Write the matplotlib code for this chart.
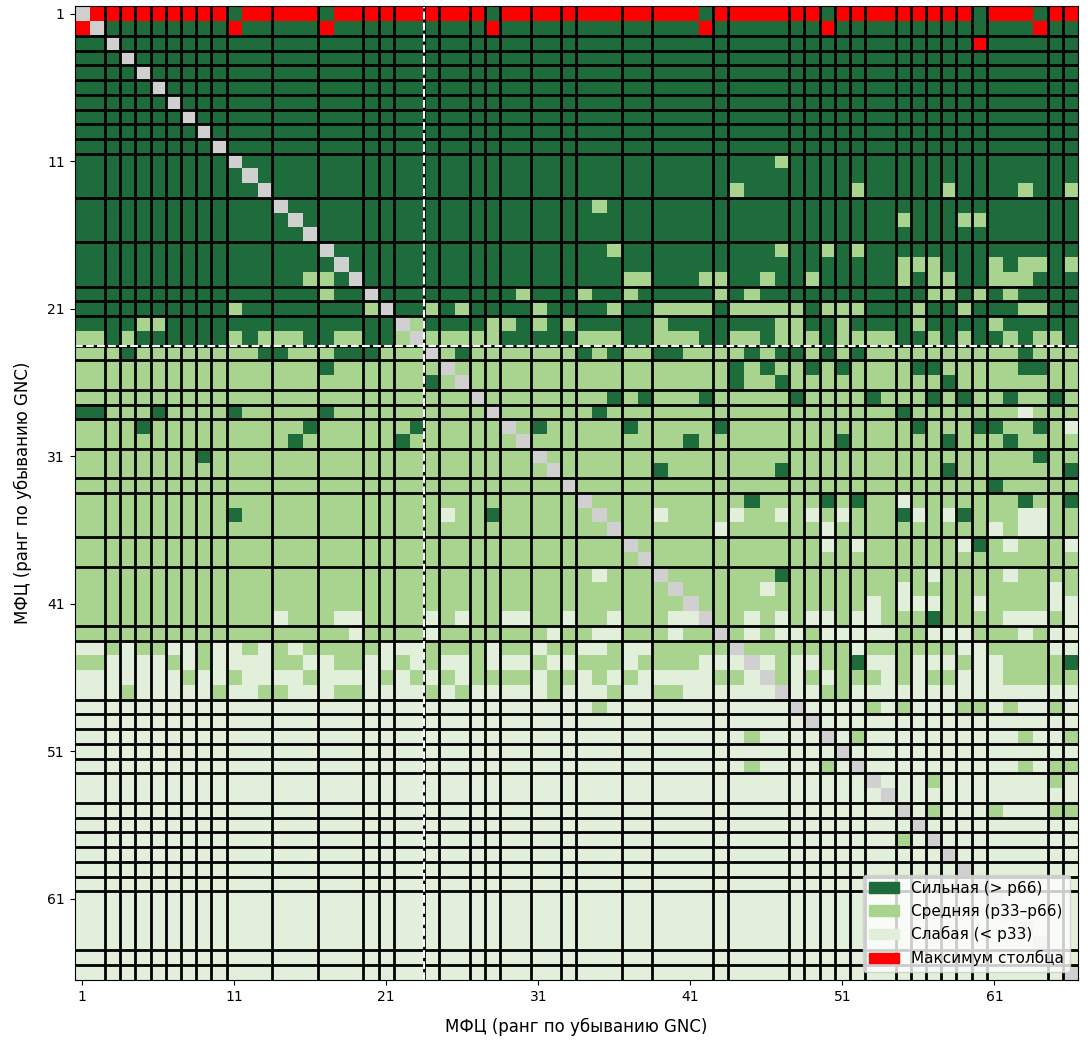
import matplotlib
matplotlib.use("Agg")
import matplotlib.pyplot as plt
import numpy as np
from matplotlib.colors import to_rgb
from matplotlib.patches import Patch

# Link strength class per cell, rows/cols = MFC sorted by GNC (1..66)
# S = strong (> p66), M = medium (p33-p66), W = weak (< p33), X = diagonal
rows = [
    "XSSSSSSSSS SSSSSSSSSS SSSSSSSSSS SSSSSSSSSS SSSSSSSSSS SSSSSSSSSS SSSSSS",
    "SXSSSSSSSS SSSSSSSSSS SSSSSSSSSS SSSSSSSSSS SSSSSSSSSS SSSSSSSSSS SSSSSS",
    "SSXSSSSSSS SSSSSSSSSS SSSSSSSSSS SSSSSSSSSS SSSSSSSSSS SSSSSSSSSS SSSSSS",
    "SSSXSSSSSS SSSSSSSSSS SSSSSSSSSS SSSSSSSSSS SSSSSSSSSS SSSSSSSSSS SSSSSS",
    "SSSSXSSSSS SSSSSSSSSS SSSSSSSSSS SSSSSSSSSS SSSSSSSSSS SSSSSSSSSS SSSSSS",
    "SSSSSXSSSS SSSSSSSSSS SSSSSSSSSS SSSSSSSSSS SSSSSSSSSS SSSSSSSSSS SSSSSS",
    "SSSSSSXSSS SSSSSSSSSS SSSSSSSSSS SSSSSSSSSS SSSSSSSSSS SSSSSSSSSS SSSSSS",
    "SSSSSSSXSS SSSSSSSSSS SSSSSSSSSS SSSSSSSSSS SSSSSSSSSS SSSSSSSSSS SSSSSS",
    "SSSSSSSSXS SSSSSSSSSS SSSSSSSSSS SSSSSSSSSS SSSSSSSSSS SSSSSSSSSS SSSSSS",
    "SSSSSSSSSX SSSSSSSSSS SSSSSSSSSS SSSSSSSSSS SSSSSSSSSS SSSSSSSSSS SSSSSS",
    "SSSSSSSSSS XSSSSSSSSS SSSSSSSSSS SSSSSSSSSS SSSSSSMSSS SSSSSSSSSS SSSSSS",
    "SSSSSSSSSS SXSSSSSSSS SSSSSSSSSS SSSSSSSSSS SSSSSSSSSS SSSSSSSSSS SSSSSS",
    "SSSSSSSSSS SSXSSSSSSS SSSSSSSSSS SSSSSSSSSS SSSMSSSSSS SMSSSSSMSS SSMSSM",
    "SSSSSSSSSS SSSXSSSSSS SSSSSSSSSS SSSSMSSSSS SSSSSSSSSS SSSSSSSSSS SSSSSS",
    "SSSSSSSSSS SSSSXSSSSS SSSSSSSSSS SSSSSSSSSS SSSSSSSSSS SSSSMSSSMM SSSSSS",
    "SSSSSSSSSS SSSSSXSSSS SSSSSSSSSS SSSSSSSSSS SSSSSSSSSS SSSSSSSSSS SSSSSS",
    "SSSSSSSSSS SSSSSSXSSS SSSSSSSSSS SSSSSMSSSS SSSSSSMSSM SMSSSSSSSS SSSSSS",
    "SSSSSSSSSS SSSSSSSXSS SSSSSSSSSS SSSSSSSSSS SSSSSSSSSS SSSSMMMSSS MSMMSM",
    "SSSSSSSSSS SSSSSMMSXS SSSSSSSSSS SSSSSSMMSS SMMSSMSSMS SSSSMSMMSS MMMSSS",
    "SSSSSSSSSS SSSSSSMSSX SSSSSSSSSM SSSMSSMSSS SSMSMSSSSS SSSSSSMMSM SMSSSS",
    "SSSSSSSSSS MSSSSSSSSM XSSMSMSSSS MSSSSMSSMM MMSMMMMMSM MMSSSMSSMS SSMMSS",
    "SSSSMMSSSS SSSSSSSSSS SXMSSSSMMS MSMSSSSSMS SSSSSSMMSS MSSSSMSSSS MSSSSS",
    "MMSMSSSSSS MSMMMSSMMS SMXMMMMMSS SSSMMMSSMM MSSMMSMMMS MMMMSSMSMS SMSMMS",
    "MMMSMMMMMM MMSSMMMSSS MMMXMSMMMM MMMSMSMMSS MMMMSMSSMS MSMMMMMMMM MMSMMM",
    "MMMMMMMMMM MMMMMMSMMM MMMMXMMMMM MMMMMMMMMM MMMSMSMMSM SMMMMSSMMM MMSSMM",
    "MMMMMMMMMM MMMMMMMMMM MMMSMXMMMM MMMMMMMMMM MMMSMMSMMM MMMMMMMSMM MMMMMM",
    "MMMMMMMMMM MMMMMMMMMM MMMMMMXMMM MMMMMSMSMM MSMMMMMSMM MMSMMMSMSM MSMMSM",
    "SSMMMSMMMM SMMMMMSMMM MMMMMMMXMM MMMMSMMMMM MMMMMMMMMM MMMMSMMMMM MMWMMM",
    "MMMMSMMMMM MMMMMSMMMM MMSMMMMMXM SMMMMMSMMM MMSMMMMMMM MMMMMSMMMS SMMSMW",
    "MMMMMMMMMM MMMMSMMMMM MSMMMMMMMX MMMMMMMMMM SMMMMMMMMM SMMMMMMSMM MSMMMM",
    "MMMMMMMMSM MMMMMMMMMM MMMMMMMMMM XMMMMMMMMM MMMMMMMMMM MMMMMMMMMM MMMSMM",
    "MMMMMMMMMM MMMMMMMMMM MMMMMMMMMM MXMMMMMMSM MMMMMMSMMM MMMMMMMSMM MMMMMS",
    "MMMMMMMMMM MMMMMMMMMM MMMMMMMMMM MMXMMMMMMM MMMMMMMMMM MMMMMMMMMM SMMMMM",
    "MMMMMMMMMM MMMMMMMMMM MMMMMMMMMM MMMXMMMMMM MMMMSMMMMS MSMMWMMMMM MMSMMS",
    "MMMMMMMMMM SMMMMMMMMM MMMMWMMSMM MMMMXMMMWM MMMWMMWMWM WMMMSWMWSM MMWWMM",
    "MMMMMMMMMM MMMMMMMMMM MMMMMMMMMM MMMMMXMMMM MMWMMMMMMW MMMMMMMMMM WMWWMM",
    "MMMMMMMMMM MMMMMMMMMM MMMMMMMMMM MMMMMMXMMM MMMMMMMMMW MWMMMMMMWS MWMMMW",
    "MMMMMMMMMM MMMMMMMMMM MMMMMMMMMM MMMMMMMXMM MMMMMMMMMM MMMMMMMMMM MMMMMM",
    "MMMMMMMMMM MMMMMMMMMM MMMMMMMMMM MMMMWMMMXM MMMMMMSMMM MMMMMMWMMM MWMMMM",
    "MMMMMMMMMM MMMMMMMMMM MMMMMMMMMM MMMMMMMMMX MMMMMWMMMM MMMMWMMMMM MMMMWM",
    "MMMMMMMMMM MMMMMMMMMM MMMMMMMMMM MMMMMMMMMM XMMMMMMMMM MMWMWWWMMW MMMMWW",
    "MMMMMMMMMM MMMWMMMWWM MMMWMWMMWW MMWMMWMMMW WXMMWMWMWW MWWMMMSMMM MWWWMW",
    "MMMMMMMMMM MMMMMMMMWM MMMWMMMMMM MWMMWWMMMW MMXMWMWWMW WWWWMMWWWM MMWMWW",
    "WWMWMMWWMW WMWMWMMMMM WWWMMMMWMM WMMWWMWWMM MMMXMMMMMM MWMMMMMMWW MMMMWW",
    "MMWWWWMWMW WWWMMWWMMW WMWMWWMWWW MWWMMMWMMM MWWWXWMWWM MSWWMWWWMW WMMMMS",
    "WWWWWWWMWW MWWWWMWWWW MWMWMWMMMM WMMWMWMWWW WWMMWXMWMW MMMWMWMMWW WMMMMM",
    "WWWMWWWWWM WWMMWWWMMW WWWMWMWWWW WMWWWMWWMM WWWWWWXWWM MWWWWWWWWW WWWWWW",
    "WWWWWWWWWW WWWWWWWWWW WWWWWWWWWW WWWWMWWWWW WWWWWWWXWW WWMWMWWWMM WMWWMW",
    "WWWWWWWWWW WWWWWWWWWW WWWWWWWWWW WWWWWWWWWW WWWWWWWWXW WWWWWWWWWW WWWWWW",
    "WWWWWWWWWW WWWWWWWWWW WWWWWWWWWW WWWWWWWWWW WWWWMWWWWX WMWWWWWWWW WWMWWM",
    "WWWWWWWWWW WWWWWWWWWW WWWWWWWWWW WWWWWWWWWW WWWWWWWWWW XWWWWWWWWW WWWWWW",
    "WWWWWWWWWW WWWWWWWWWW WWWWWWWWWW WWWWWWWWWW WWWWMWWWWM WXWWWWWWWW WWMWMM",
    "WWWWWWWWWW WWWWWWWWWW WWWWWWWWWW WWWWWWWWWW WWWWWWWWWW WWXWWWMWWW WWWWMW",
    "WWWWWWWWWW WWWWWWWWWW WWWWWWWWWW WWWWWWWWWW WWWWWWWWWW WWWXWWWWWW WWWWWW",
    "WWWWWWWWWW WWWWWWWWWW WWWWWWWWWW WWWWWWWWWW WWWWWWWWWW WWWWXWMWWW MWWWMM",
    "WWWWWWWWWW WWWWWWWWWW WWWWWWWWWW WWWWWWWWWW WWWWWWWWWW WWWWWXWWWW WWWWWW",
    "WWWWWWWWWW WWWWWWWWWW WWWWWWWWWW WWWWWWWWWW WWWWWWWWWW WWWWMWXWWW WWWWWW",
    "WWWWWWWWWW WWWWWWWWWW WWWWWWWWWW WWWWWWWWWW WWWWWWWWWW WWWWWWWXWW WWWWWW",
    "WWWWWWWWWW WWWWWWWWWW WWWWWWWWWW WWWWWWWWWW WWWWWWWWWW WWWWWWWWXW WWWWWW",
    "WWWWWWWWWW WWWWWWWWWW WWWWWWWWWW WWWWWWWWWW WWWWWWWWWW WWWWWWWWWX WWWWWW",
    "WWWWWWWWWW WWWWWWWWWW WWWWWWWWWW WWWWWWWWWW WWWWWWWWWW WWWWWWWWWW XWWWWW",
    "WWWWWWWWWW WWWWWWWWWW WWWWWWWWWW WWWWWWWWWW WWWWWWWWWW WWWWWWWWWW WXWWWW",
    "WWWWWWWWWW WWWWWWWWWW WWWWWWWWWW WWWWWWWWWW WWWWWWWWWW WWWWWWWWWW WWXWWW",
    "WWWWWWWWWW WWWWWWWWWW WWWWWWWWWW WWWWWWWWWW WWWWWWWWWW WWWWWWWWWW WWWXWW",
    "WWWWWWWWWW WWWWWWWWWW WWWWWWWWWW WWWWWWWWWW WWWWWWWWWW WWWWWWWWWW WWWWXW",
    "WWWWWWWWWW WWWWWWWWWW WWWWWWWWWW WWWWWWWWWW WWWWWWWWWW WWWWWWWWWW WWWWWX",
]

# row (1-based) holding the maximum of each column
col_max_row = [2, 1, 1, 1, 1, 1, 1, 1, 1, 1,
               2, 1, 1, 1, 1, 1, 2, 1, 1, 1,
               1, 1, 1, 1, 1, 1, 1, 2, 1, 1,
               1, 1, 1, 1, 1, 1, 1, 1, 1, 1,
               1, 2, 1, 1, 1, 1, 1, 1, 1, 2,
               1, 1, 1, 1, 1, 1, 1, 1, 1, 3,
               1, 1, 1, 2, 1, 1]

# boundaries between groups of MFC (line drawn after this rank)
group_breaks = [2, 3, 4, 5, 6, 7, 8, 9, 10, 13, 16, 19, 20, 21, 23, 24, 26,
                27, 28, 30, 32, 33, 36, 38, 42, 43, 47, 48, 49, 50, 51, 52,
                54, 55, 56, 57, 58, 59, 60, 64, 65]
top_cut = 23

colors = {"S": "#1e6b3b", "M": "#a8d490", "W": "#e2efda", "X": "#d0d0d0"}
max_color = "#ff0000"
labels = ["Сильная (> p66)", "Средняя (p33–p66)", "Слабая (< p33)", "Максимум столбца"]

grid = [r.replace(" ", "") for r in rows]
n = len(grid)
for r in grid:
    assert len(r) == n, (len(r), r)

img = np.zeros((n, n, 3))
for i, r in enumerate(grid):
    for j, ch in enumerate(r):
        img[i, j] = to_rgb(colors[ch])
for j, i in enumerate(col_max_row):
    img[i - 1, j] = to_rgb(max_color)

fig = plt.figure(figsize=(10.91, 10.42), dpi=100)
ax = fig.add_axes([0.0683, 0.0595, 0.9198, 0.9343])
ax.imshow(img, interpolation="nearest", aspect="auto",
          extent=(0.5, n + 0.5, n + 0.5, 0.5))

for b in group_breaks:
    ax.axhline(b + 0.5, color="black", lw=2)
    ax.axvline(b + 0.5, color="black", lw=2)

ax.axhline(top_cut + 0.5, color="white", lw=1.5, ls="--")
ax.axvline(top_cut + 0.5, color="white", lw=1.5, ls="--")

ticks = list(range(1, n + 1, 10))
ax.set_xticks(ticks)
ax.set_yticks(ticks)
ax.set_xlim(0.5, n + 0.5)
ax.set_ylim(n + 0.5, 0.5)
ax.set_xlabel("МФЦ (ранг по убыванию GNC)", fontsize=12, labelpad=10)
ax.set_ylabel("МФЦ (ранг по убыванию GNC)", fontsize=12, labelpad=11)

handles = [Patch(color=colors["S"]), Patch(color=colors["M"]),
           Patch(color=colors["W"]), Patch(color=max_color)]
ax.legend(handles, labels, loc="lower right", fontsize=11)

fig.savefig("out.png", dpi=100)
